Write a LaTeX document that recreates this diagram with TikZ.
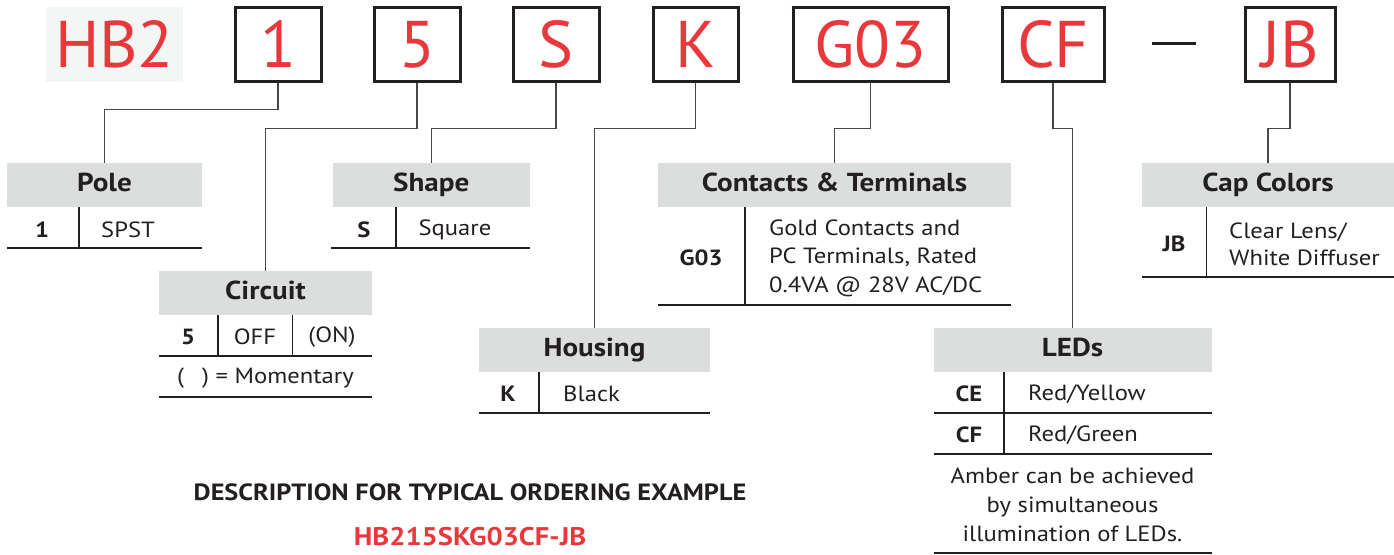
\documentclass[tikz,border=0pt]{standalone}
\usepackage{fontspec}
\setmainfont[FakeStretch=1.12]{PT Sans}
\newfontfamily\topfont{PT Sans}
\definecolor{pred}{HTML}{E8383B}
\definecolor{hgray}{HTML}{DCDEDD}
\definecolor{ink}{HTML}{231F20}
\definecolor{lgray}{HTML}{F4F6F6}
\definecolor{conn}{HTML}{4A4646}
\tikzset{
  topbox/.style={draw=ink, line width=3pt, minimum height=74pt, inner sep=0pt, text=pred,
    font=\topfont\fontsize{66}{70}\selectfont, text height=47pt, text depth=0pt},
  hdr/.style={fill=hgray, minimum height=44pt, inner sep=0pt, text=ink,
    font=\bfseries\fontsize{26}{30}\selectfont, text height=18pt, text depth=5pt},
  cell/.style={inner sep=0pt, text=ink, font=\fontsize{22}{28}\selectfont},
  code/.style={inner sep=0pt, text=ink, font=\bfseries\fontsize{22}{28}\selectfont},
  conline/.style={draw=conn, line width=1.3pt},
  rule/.style={draw=ink, line width=1.4pt}
}
\begin{document}
\begin{tikzpicture}[x=1pt,y=-1pt]
\useasboundingbox (0,0) rectangle (1394,554);
% top code
\node[fill=lgray, minimum width=137pt, minimum height=75pt, inner sep=0pt, text=pred,
  font=\topfont\fontsize{66}{70}\selectfont, text height=47pt, text depth=0pt] (hb) at (114.5,44) {HB2};
\node[topbox, minimum width=86pt] (b1) at (278,44) {1};
\node[topbox, minimum width=86pt] (b5) at (417,44) {5};
\node[topbox, minimum width=86pt] (bs) at (556,44) {S};
\node[topbox, minimum width=85pt] (bk) at (695.5,44) {K};
\node[topbox, minimum width=155pt] (bg) at (870.5,44) {G03};
\node[topbox, minimum width=102pt] (bc) at (1053,44) {CF};
\node[topbox, minimum width=90pt] (bj) at (1290,44) {JB};
\coordinate (d1) at (1152,43);
\coordinate (d2) at (1196,43);
\draw[draw=ink, line width=3pt] (d1) -- (d2);

% headers
\node[hdr, minimum width=195pt] (pole) at (104.5,185) {Pole};
\node[hdr, minimum width=197.5pt] (shape) at (431.25,185) {Shape};
\node[hdr, minimum width=213pt] (circ) at (265.5,293) {Circuit};
\node[hdr, minimum width=353pt] (cont) at (834.5,185) {Contacts \& Terminals};
\node[hdr, minimum width=231pt] (hous) at (594.5,350) {Housing};
\node[hdr, minimum width=278pt] (leds) at (1072.5,350) {LEDs};
\node[hdr, minimum width=252pt] (cap) at (1268,185) {Cap Colors};

% connectors
\draw[conline] (b1.south) -- ++(0,27) -| (pole.north);
\draw[conline] (b5.south) -- ++(0,46) -| (circ.north);
\draw[conline] (bs.south) -- ++(0,46) -| (shape.north);
\draw[conline] (bk.south) -- ++(0,46) -| (hous.north);
\draw[conline] (bg.south) -- ++(0,46) -| (cont.north);
\draw[conline] (bc.south) -- ++(0,46) -| (leds.north);
\draw[conline] (bj.south) -- ++(0,46) -| (cap.north);

% Pole table
\draw[rule] (79,207) -- (79,248);
\draw[rule] (7,248) -- (202,248);
\node[code] (p1) at (42,230) {1};
\node[cell] (p2) at (128,230) {SPST};

% Shape table
\draw[rule] (396,207) -- (396,248);
\draw[rule] (331,248) -- (530,248);
\node[code] (s1) at (364,230) {S};
\node[cell] (s2) at (455,230) {Square};

% Circuit table
\draw[rule] (218,315) -- (218,356);
\draw[rule] (292.5,315) -- (292.5,356);
\draw[rule] (159,356) -- (372,356);
\draw[rule] (159,397) -- (372,397);
\node[code] (c1) at (188,337) {5};
\node[cell] (c2) at (255,337) {OFF};
\node[cell] (c3) at (332,337) {(ON)};
\node[cell] (c4) at (265.5,378) {(\hspace{18pt}) = Momentary};

% Contacts table
\draw[rule] (745,207) -- (745,305);
\draw[rule] (658,305) -- (1011,305);
\node[code] (g1) at (701,258) {G03};
\node[cell, anchor=west, align=left, font=\fontsize{22}{28.5}\selectfont] (g2) at (769,258)
  {Gold Contacts and\\PC Terminals, Rated\\0.4VA @ 28V AC/DC};

% Housing table
\draw[rule] (539,372) -- (539,413);
\draw[rule] (479,413) -- (710,413);
\node[code] (k1) at (508,394) {K};
\node[cell, anchor=west] (k2) at (563,394) {Black};

% Cap colors table
\draw[rule] (1206.5,207) -- (1206.5,277);
\draw[rule] (1142,277) -- (1394,277);
\node[code] (j1) at (1174,244) {JB};
\node[cell, anchor=west, align=left, font=\fontsize{22}{27}\selectfont] (j2) at (1229,244)
  {Clear Lens/\\White Diffuser};

% LEDs table
\draw[rule] (1004,372) -- (1004,454);
\draw[rule] (933.5,413) -- (1211.5,413);
\draw[rule] (933.5,454) -- (1211.5,454);
\draw[rule] (933.5,553) -- (1211.5,553);
\node[code] (l1) at (969,394) {CE};
\node[cell, anchor=west] (l2) at (1028,394) {Red/Yellow};
\node[code] (l3) at (969,435) {CF};
\node[cell, anchor=west] (l4) at (1028,435) {Red/Green};
\node[cell, align=center, font=\fontsize{22}{29}\selectfont] (l5) at (1072.5,505)
  {Amber can be achieved\\by simultaneous\\illumination of LEDs.};

% bottom text
\node[code, font=\bfseries\fontsize{23.5}{28}\selectfont] (desc) at (470,492) {DESCRIPTION FOR TYPICAL ORDERING EXAMPLE};
\node[code, text=pred, font=\bfseries\fontsize{25.5}{28}\selectfont] (ex) at (470,537) {HB215SKG03CF-JB};
\end{tikzpicture}
\end{document}
